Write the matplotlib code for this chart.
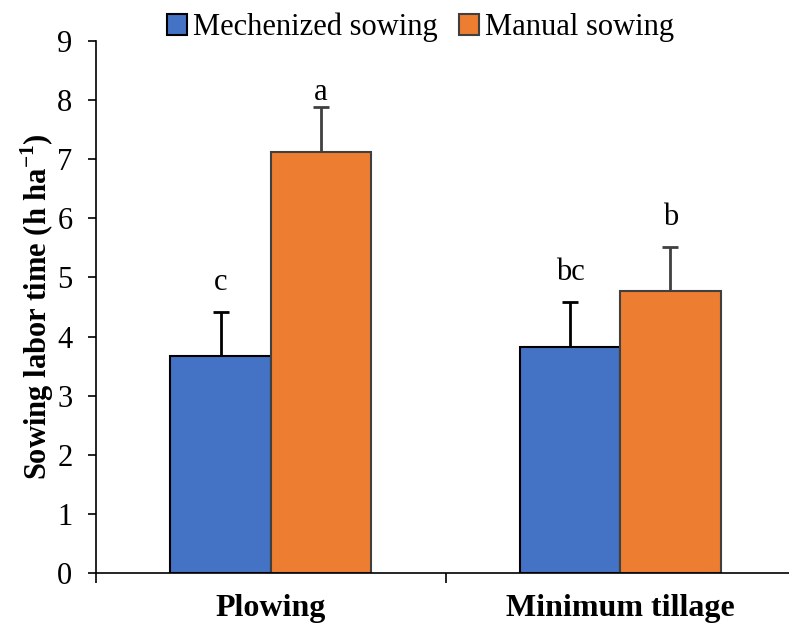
import matplotlib.pyplot as plt
import numpy as np

plt.rcParams['font.family'] = ['Liberation Serif', 'DejaVu Serif']
plt.rcParams['mathtext.fontset'] = 'custom'
plt.rcParams['mathtext.rm'] = 'Liberation Serif'
plt.rcParams['mathtext.bf'] = 'Liberation Serif:bold'

# data
tillage = ["Plowing", "Minimum tillage"]
series = ["Mechenized sowing", "Manual sowing"]
mech_mean = [3.67, 3.82]
mech_err = [0.74, 0.76]
manual_mean = [7.13, 4.77]
manual_err = [0.75, 0.74]
mech_letters = ["c", "bc"]
manual_letters = ["a", "b"]

fig = plt.figure(figsize=(7.89, 6.26), dpi=100)
ax = fig.add_axes([0.1217, 0.0847, 0.886, 0.8498])

x = np.arange(len(tillage))
w = 0.287
blue = "#4472C4"
orange = "#ED7D31"
grey = "#404040"

ax.bar(x - w / 2, mech_mean, w, color=blue, edgecolor="black", linewidth=1.5,
       label=series[0], zorder=2)
ax.bar(x + w / 2, manual_mean, w, color=orange, edgecolor=grey, linewidth=1.5,
       label=series[1], zorder=2)

# one-sided error bars
ax.errorbar(x - w / 2, mech_mean, yerr=[np.zeros(2), mech_err], fmt="none",
            ecolor="black", elinewidth=2, capsize=6, capthick=2, zorder=1)
ax.errorbar(x + w / 2, manual_mean, yerr=[np.zeros(2), manual_err], fmt="none",
            ecolor=grey, elinewidth=2, capsize=6, capthick=2, zorder=1)

# significance letters
for i in range(len(x)):
    ax.annotate(mech_letters[i], (x[i] - w / 2, mech_mean[i] + mech_err[i]),
                xytext=(0, 11), textcoords="offset points", ha="center", va="bottom",
                fontsize=22)
    ax.annotate(manual_letters[i], (x[i] + w / 2, manual_mean[i] + manual_err[i]),
                xytext=(0, 11 if i else 0), textcoords="offset points", ha="center",
                va="bottom", fontsize=22)

ax.set_xlim(-0.5, 1.5)
ax.set_ylim(0, 9)
ax.set_yticks(range(10))
ax.tick_params(axis="y", labelsize=22, length=6, width=1.2, direction="out", pad=11)

ax.set_xticks(x)
ax.set_xticklabels(tillage, fontsize=23, fontweight="bold")
ax.tick_params(axis="x", length=0, pad=15)
ax.set_xticks([-0.5, 0.5, 1.5], minor=True)
ax.tick_params(axis="x", which="minor", length=7, width=1.2, direction="out")

ax.set_ylabel("Sowing labor time (h ha$^{\\mathbf{-1}}$)", fontsize=22,
              fontweight="bold", labelpad=1)

for s in ["top", "right"]:
    ax.spines[s].set_visible(False)
ax.spines["left"].set_linewidth(1.2)
ax.spines["bottom"].set_linewidth(1.2)

ax.legend(loc="lower center", bbox_to_anchor=(0.464, 0.975), ncol=2, frameon=False,
          fontsize=22, handlelength=0.65, handleheight=0.65, handletextpad=0.2,
          columnspacing=0.7, borderaxespad=0)

fig.savefig("out.png", dpi=100)
